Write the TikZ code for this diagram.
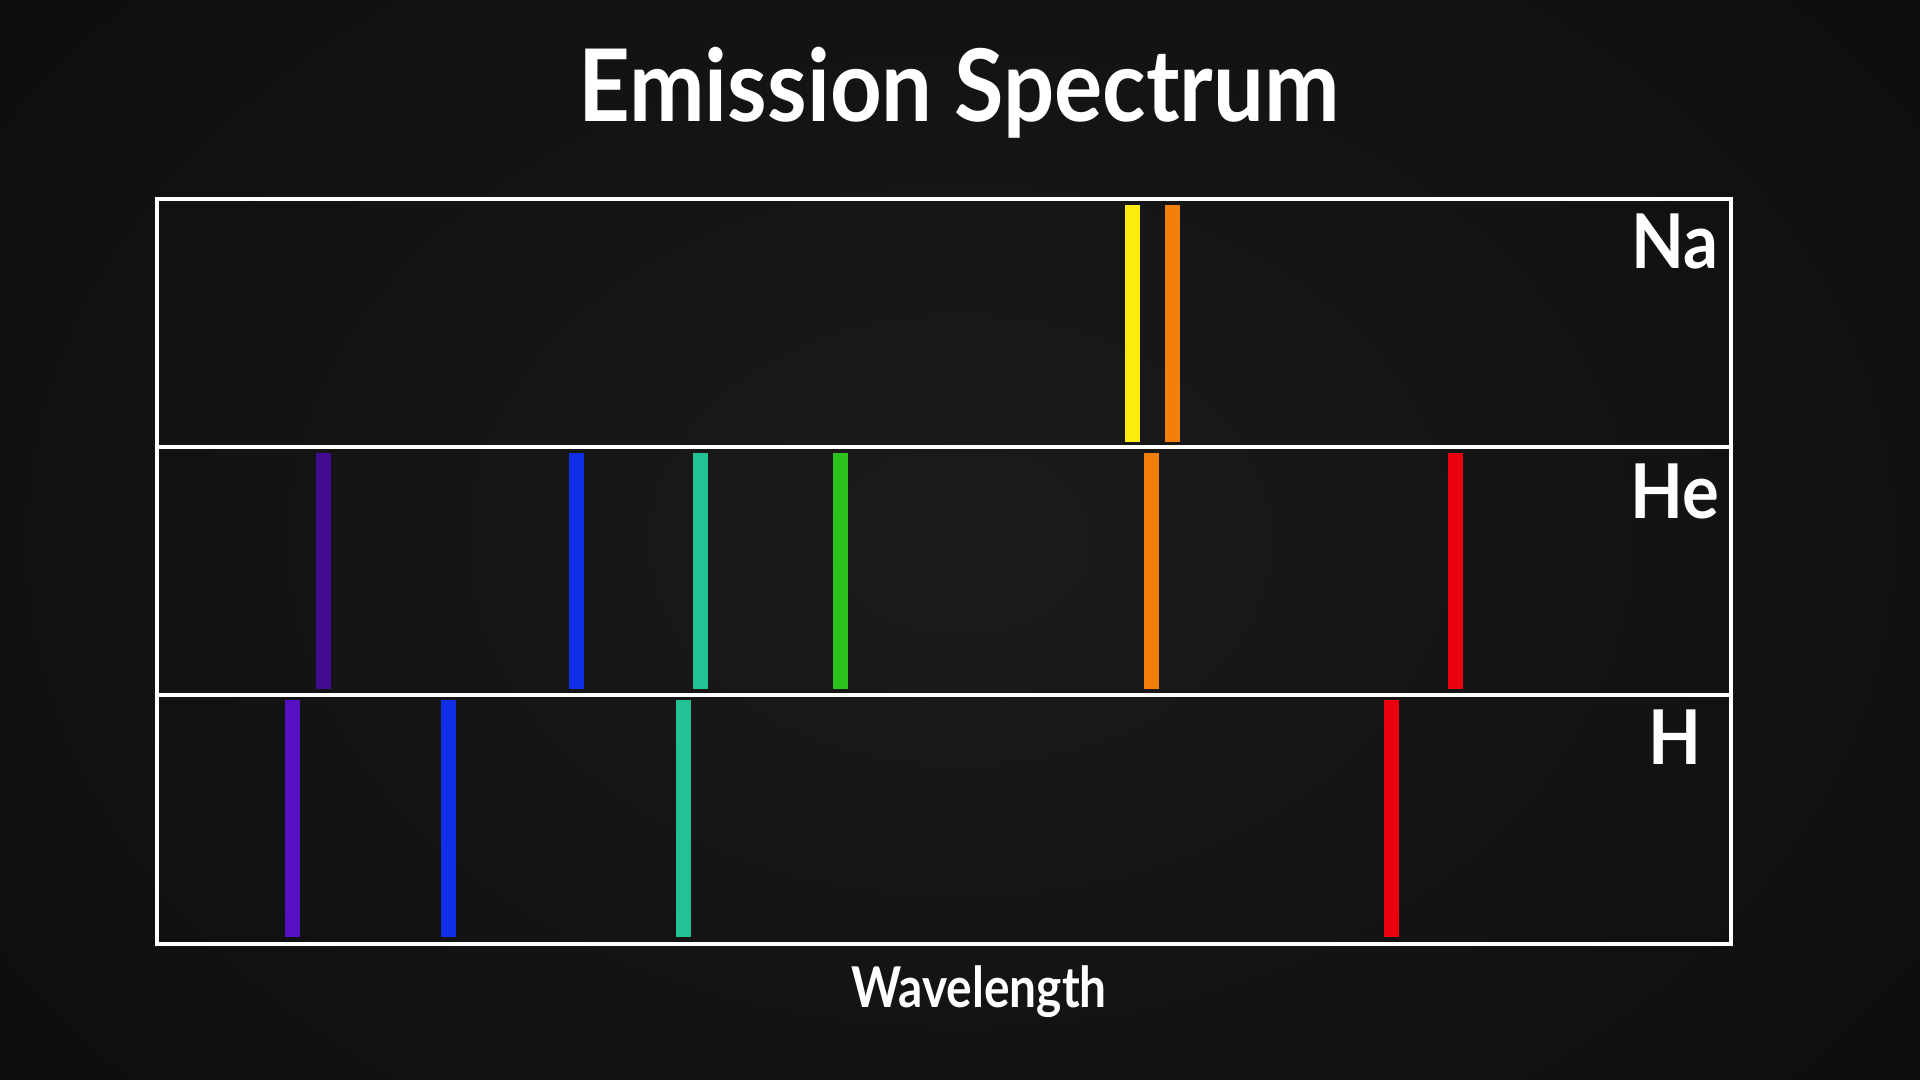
\documentclass[tikz,border=0pt]{standalone}
\usepackage{fontspec}
\setmainfont{Lato}
\definecolor{bgin}{HTML}{1B1B1B}
\definecolor{bgout}{HTML}{0E0E0E}
\definecolor{cyellow}{HTML}{FCEB0C}
\definecolor{corange}{HTML}{F47F0A}
\definecolor{cpurpleA}{HTML}{420C90}
\definecolor{cpurpleB}{HTML}{5810C4}
\definecolor{cblue}{HTML}{102EE6}
\definecolor{cteal}{HTML}{24C196}
\definecolor{cgreen}{HTML}{2EC21E}
\definecolor{cred}{HTML}{EC0010}
\tikzset{
  frame/.style={draw=white, line width=1.4pt},
  label/.style={text=white, font=\bfseries, anchor=base, inner sep=0pt},
}
\newcommand{\specline}[4]{\fill[#1] (#2-7.5,#3) rectangle (#2+7.5,#4);}
\begin{document}
\begin{tikzpicture}[x=0.01cm, y=-0.01cm]
  \useasboundingbox (0,0) rectangle (1920,1080);
  \shade[inner color=bgin, outer color=bgout] (-200,-300) rectangle (2120,1380);
  % spectral lines
  % Na row
  \specline{cyellow}{1132}{205}{442}
  \specline{corange}{1172}{205}{442}
  % He row
  \foreach \xx/\cc in {323/cpurpleA, 576/cblue, 700/cteal, 840/cgreen, 1151/corange, 1455/cred}
    {\specline{\cc}{\xx}{453}{689}}
  % H row
  \foreach \xx/\cc in {292/cpurpleB, 448/cblue, 683/cteal, 1391/cred}
    {\specline{\cc}{\xx}{700}{937}}
  % frame
  \draw[frame] (157,199) rectangle (1731,944);
  \draw[frame] (157,447) -- (1731,447);
  \draw[frame] (157,695) -- (1731,695);
  % texts
  \node[label, font=\fontsize{28.5}{30}\selectfont\bfseries] (title) at (959,122) {\scalebox{0.90}[1]{Emission Spectrum}};
  \node[label, font=\fontsize{21.5}{24}\selectfont\bfseries] (na) at (1675,269) {\scalebox{0.91}[1]{Na}};
  \node[label, font=\fontsize{21.5}{24}\selectfont\bfseries] (he) at (1675,519) {\scalebox{0.91}[1]{He}};
  \node[label, font=\fontsize{21.5}{24}\selectfont\bfseries] (h) at (1675,765) {\scalebox{0.91}[1]{H}};
  \node[label, font=\fontsize{16}{18}\selectfont\bfseries] (wl) at (979,1008) {\scalebox{0.85}[1]{Wavelength}};
\end{tikzpicture}
\end{document}
